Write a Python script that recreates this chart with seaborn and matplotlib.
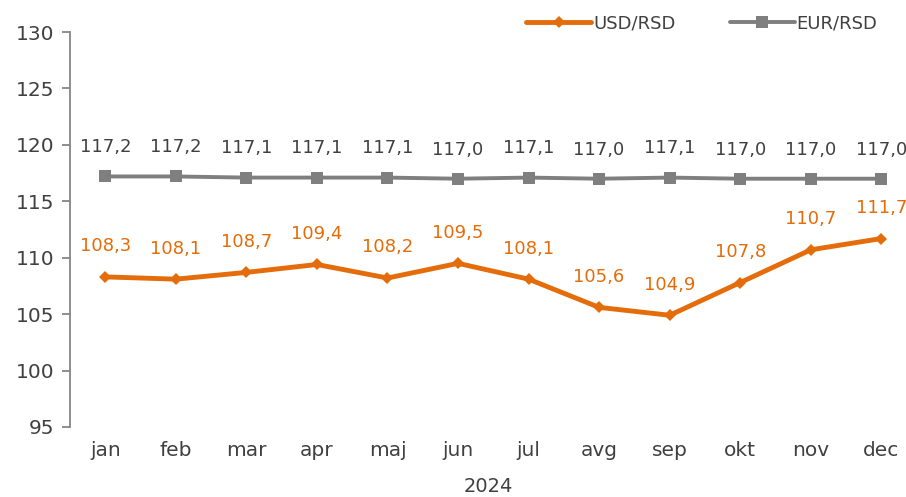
import pandas as pd
import matplotlib
matplotlib.use('Agg')
import matplotlib.pyplot as plt
import seaborn as sns

#chart data
months = ['jan', 'feb', 'mar', 'apr', 'maj', 'jun', 'jul', 'avg', 'sep', 'okt', 'nov', 'dec']
usd_rsd = [108.3, 108.1, 108.7, 109.4, 108.2, 109.5, 108.1, 105.6, 104.9, 107.8, 110.7, 111.7]
eur_rsd = [117.2, 117.2, 117.1, 117.1, 117.1, 117.0, 117.1, 117.0, 117.1, 117.0, 117.0, 117.0]
year_label = '2024'

orange = '#E46C0A'
grey = '#7F7F7F'
text_col = '#404040'

sns.set_style('white')
plt.rcParams['font.family'] = ['DejaVu Sans']

#long format table for seaborn
df = pd.DataFrame({
    'pos': list(range(len(months))) * 2,
    'value': usd_rsd + eur_rsd,
    'series': ['USD/RSD'] * len(months) + ['EUR/RSD'] * len(months),
})

fig = plt.figure(figsize=(9.06, 4.97), dpi=100)
ax = fig.add_axes([70 / 906, 1 - 427 / 497, 1 - 70 / 906, (427 - 32) / 497])

sns.lineplot(data=df[df.series == 'EUR/RSD'], x='pos', y='value', color=grey, linewidth=2.8,
             marker='s', markersize=9, markeredgewidth=0, label='EUR/RSD', ax=ax, zorder=3)
sns.lineplot(data=df[df.series == 'USD/RSD'], x='pos', y='value', color=orange, linewidth=3.5,
             marker='D', markersize=6.5, markeredgewidth=0, label='USD/RSD', ax=ax, zorder=4)

#value labels above the points
for i, v in enumerate(eur_rsd):
    ax.annotate(f'{v:.1f}'.replace('.', ','), (i, v), xytext=(0, 21), textcoords='offset points',
                ha='center', va='center', fontsize=13, color=text_col)
for i, v in enumerate(usd_rsd):
    ax.annotate(f'{v:.1f}'.replace('.', ','), (i, v), xytext=(0, 22), textcoords='offset points',
                ha='center', va='center', fontsize=13, color=orange)

ax.set_ylim(95, 130)
ax.set_yticks(range(95, 131, 5))
ax.set_xlim(-0.5, 11.35)
ax.set_xticks(range(len(months)))
ax.set_xticklabels(months)
ax.set_xlabel(year_label, fontsize=14, color=text_col, labelpad=12)
ax.set_ylabel('')

for s in ['top', 'right', 'bottom']:
    ax.spines[s].set_visible(False)
ax.spines['left'].set_color('#868686')
ax.spines['left'].set_linewidth(1.3)
ax.tick_params(axis='y', length=6, width=1.3, color='#868686', labelsize=14.5, labelcolor=text_col, pad=5, left=True)
ax.tick_params(axis='x', length=0, labelsize=14.5, labelcolor=text_col, pad=10)

handles, labels = ax.get_legend_handles_labels()
order = [labels.index('USD/RSD'), labels.index('EUR/RSD')]
ax.legend([handles[k] for k in order], [labels[k] for k in order], loc='upper right',
          bbox_to_anchor=(0.985, 1.085), ncol=2, frameon=False, fontsize=13, labelcolor=text_col,
          handlelength=3.6, handletextpad=0.1, columnspacing=3.0)

plt.savefig('out.png', dpi=100)
